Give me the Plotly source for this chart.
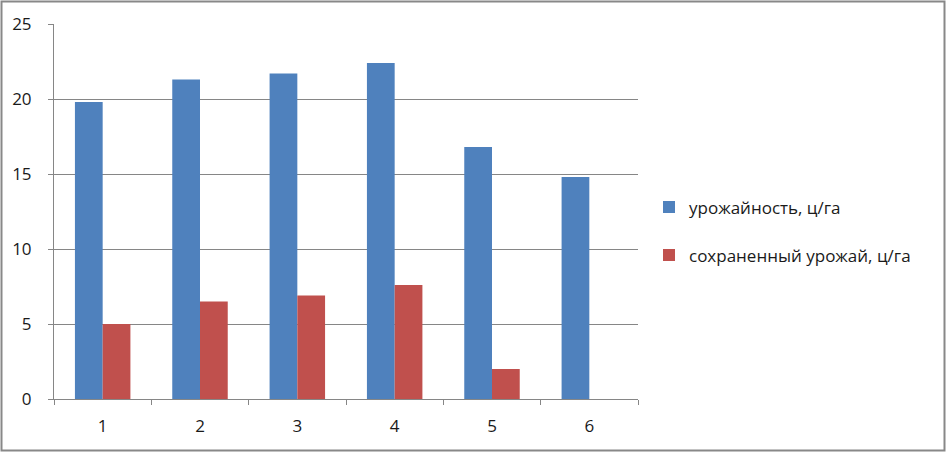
import plotly.graph_objects as go

categories = ["1", "2", "3", "4", "5", "6"]
yield_vals = [19.8, 21.3, 21.7, 22.4, 16.8, 14.8]
saved_vals = [5.0, 6.5, 6.9, 7.6, 2.0, 0]
series_names = ["урожайность, ц/га", "сохраненный урожай, ц/га"]
y_ticks = [0, 5, 10, 15, 20, 25]

W, H = 946, 452
ML, MR, MT, MB = 54, 308, 24, 53
PW, PH = W - ML - MR, H - MT - MB

fig = go.Figure()
fig.add_trace(go.Bar(x=categories, y=yield_vals, name=series_names[0],
                     marker=dict(color="#4F81BD", line=dict(width=0)), legendgroup="a"))
fig.add_trace(go.Bar(x=categories, y=saved_vals, name=series_names[1],
                     marker=dict(color="#C0504D", line=dict(width=0)), legendgroup="b"))

font_family = "Open Sans, Noto Sans, sans-serif"

fig.update_layout(
    width=W, height=H,
    margin=dict(l=ML, r=MR, t=MT, b=MB),
    paper_bgcolor="white", plot_bgcolor="white",
    barmode="group", bargap=0.43, bargroupgap=0,
    font=dict(family=font_family, size=17, color="#1a1a1a"),
    legend=dict(x=1 + 11 / PW, y=0.447, xanchor="left", yanchor="middle",
                traceorder="grouped", tracegroupgap=23,
                font=dict(size=17, color="#1a1a1a"),
                itemwidth=30, bgcolor="rgba(0,0,0,0)"),
    showlegend=True,
)
fig.update_xaxes(
    type="category", showline=True, linecolor="#868686", linewidth=1,
    ticks="outside", tickson="boundaries", ticklen=5, tickcolor="#868686",
    ticklabelstandoff=12, showgrid=False, tickfont=dict(size=17),
)
fig.update_yaxes(
    range=[0, 25], tickvals=y_ticks, showline=True, linecolor="#868686", linewidth=1,
    ticks="outside", ticklen=5, tickcolor="#868686", ticklabelstandoff=13,
    showgrid=True, gridcolor="#868686", gridwidth=1, zeroline=False,
    tickfont=dict(size=17),
)

# outer chart border
fig.add_shape(type="rect", xref="paper", yref="paper",
              x0=(1.5 - ML) / PW, x1=(W - 1.5 - ML) / PW,
              y0=(1.5 - MB) / PH, y1=(H - 1.5 - MB) / PH,
              line=dict(color="#888888", width=2), layer="below")

fig.write_html("out.html", config={"displayModeBar": False},
               post_script="document.body.style.margin='0';document.body.style.overflow='hidden';")
